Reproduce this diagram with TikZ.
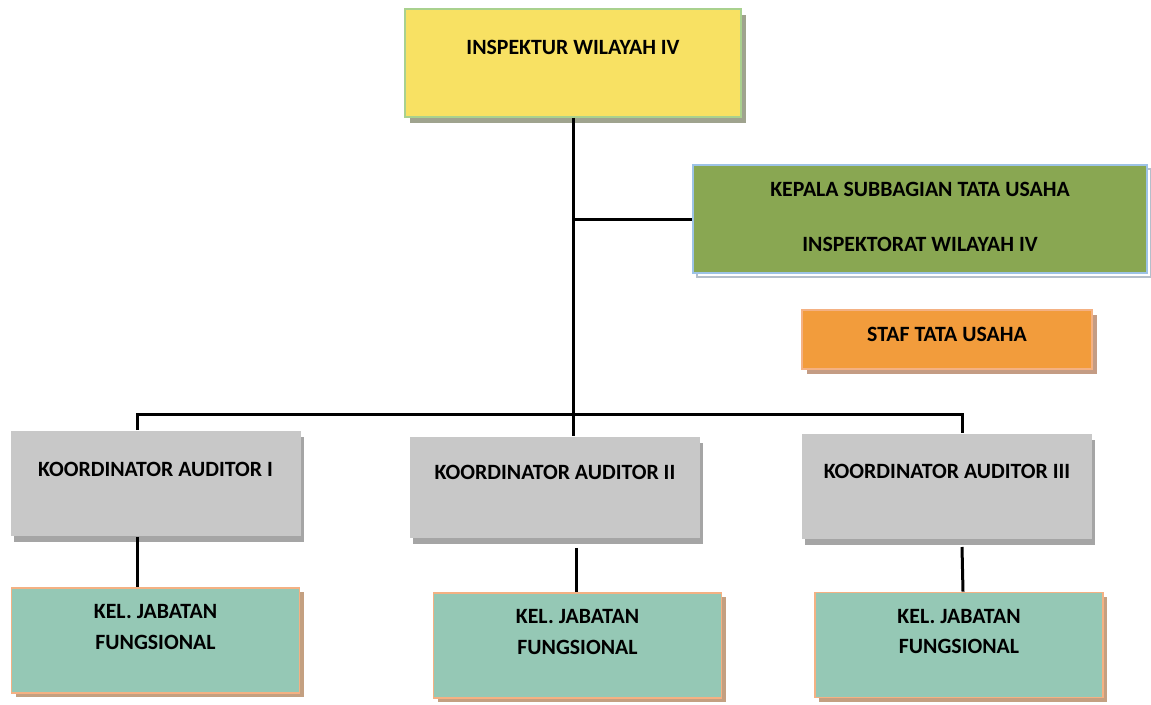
\documentclass[tikz,border=0pt]{standalone}
\usepackage{fontspec}
\setmainfont{Carlito}
\usetikzlibrary{shadows}
\definecolor{yfill}{HTML}{F8E163}
\definecolor{yline}{HTML}{A9D18E}
\definecolor{yshade}{HTML}{9FA38E}
\definecolor{gfill}{HTML}{89A752}
\definecolor{gline}{HTML}{9DC3E6}
\definecolor{gshade}{HTML}{B4BFCB}
\definecolor{ofill}{HTML}{F29C3C}
\definecolor{oline}{HTML}{F4B183}
\definecolor{oshade}{HTML}{C49C84}
\definecolor{kfill}{HTML}{C8C8C8}
\definecolor{kshade}{HTML}{A5A5A5}
\definecolor{tfill}{HTML}{95C8B5}
\definecolor{tshade}{HTML}{C4A081}
\begin{document}
\begin{tikzpicture}[x=1pt,y=-1pt,
  every label/.style={font=\bfseries\fontsize{21.8}{30.5}\selectfont, align=center, anchor=center, inner sep=0pt},
  box/.style n args={2}{rectangle, minimum width=#1, minimum height=#2, inner sep=0pt, line width=1.6pt},
  yellowbox/.style={box={336pt}{108pt}, fill=yfill, draw=yline,
    drop shadow={shadow xshift=5pt, shadow yshift=-6pt, fill=yshade, opacity=1}},
  greenbox/.style={box={454pt}{108pt}, fill=gfill, draw=gline,
    drop shadow={shadow xshift=4pt, shadow yshift=-4pt, fill=white, draw=gshade, line width=1.2pt, opacity=1}},
  orangebox/.style={box={290pt}{59pt}, fill=ofill, draw=oline,
    drop shadow={shadow xshift=5pt, shadow yshift=-5pt, fill=oshade, opacity=1}},
  greybox/.style={box={290pt}{#1}, fill=kfill, draw=none,
    drop shadow={shadow xshift=3pt, shadow yshift=-6pt, fill=kshade, opacity=1}},
  tealbox/.style={box={288pt}{105pt}, fill=tfill, draw=oline,
    drop shadow={shadow xshift=4pt, shadow yshift=-4pt, fill=tshade, opacity=1}},
  link/.style={line width=3pt, black}
]
\useasboundingbox[fill=white] (0,0) rectangle (1151,704);

% head of the office
\node[yellowbox, label={[yshift=-39pt]north:INSPEKTUR WILAYAH IV}] (head) at (573,63) {};

% administrative sub-section
\node[greenbox,
  label={[yshift=-25pt]north:KEPALA SUBBAGIAN TATA USAHA},
  label={[yshift=-80pt]north:INSPEKTORAT WILAYAH IV}] (kasub) at (920,219) {};
\node[orangebox, label={[yshift=-25pt]north:STAF TATA USAHA}] (staf) at (947,339.5) {};

% coordinators
\node[greybox=105pt, label={[yshift=-39pt]north:KOORDINATOR AUDITOR I}] (k1) at (155.5,483.5) {};
\node[greybox=101pt, label={[yshift=-36pt]north:KOORDINATOR AUDITOR II}] (k2) at (555,487.5) {};
\node[greybox=105pt, label={[yshift=-38pt]north:KOORDINATOR AUDITOR III}] (k3) at (947,486.5) {};

% functional groups
\node[tealbox, label={[yshift=-40pt]north:KEL. JABATAN\\FUNGSIONAL}] (f1) at (155.5,640.5) {};
\node[tealbox, label={[yshift=-40pt]north:KEL. JABATAN\\FUNGSIONAL}] (f2) at (577.5,645.5) {};
\node[tealbox, label={[yshift=-40pt]north:KEL. JABATAN\\FUNGSIONAL}] (f3) at (959,645) {};

% connectors
\coordinate (busL) at (137,414);
\coordinate (busR) at (962,414);
\draw[link] (head.south) -- (head.south |- k2.north);
\draw[link] (head.south |- kasub.west) -- (kasub.west);
\draw[link] (k1.north -| busL) -- (busL) -- (busR) -- (k3.north -| busR);
\draw[link] (k1.south -| busL) -- (f1.north -| busL);
\draw[link] ([yshift=-9pt]k2.south -| f2.north) ++(-1.5,0) -- ([xshift=-1.5pt]f2.north);
\draw[link] (962,547) -- (f3.north -| 963,0);
\end{tikzpicture}
\end{document}
